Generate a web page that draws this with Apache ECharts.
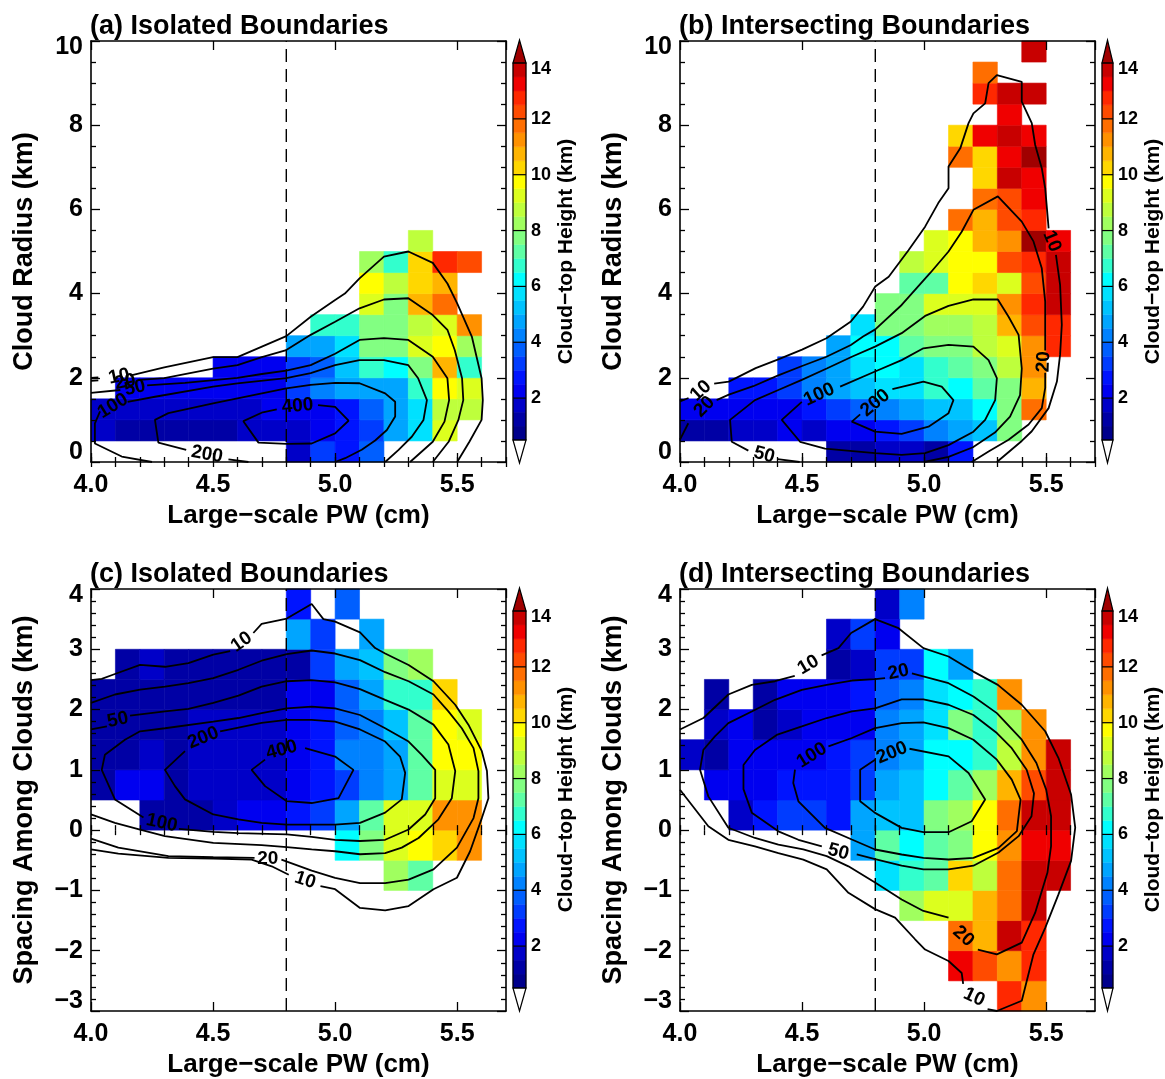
<!DOCTYPE html>
<html>
<head>
<meta charset="utf-8">
<script src="https://cdn.jsdelivr.net/npm/echarts@6/dist/echarts.min.js"></script>
<style>
  html, body { margin: 0; padding: 0; background: #fff; }
  #chart { width: 1165px; height: 1079px; }
</style>
</head>
<body>
<div id="chart"></div>
<script>
const FONT = "'Liberation Sans', Arial, Helvetica, sans-serif";
const _ = null;

// ---- bins (left / lower edges) ----
const pwBins = [4.0, 4.1, 4.2, 4.3, 4.4, 4.5, 4.6, 4.7, 4.8, 4.9, 5.0, 5.1, 5.2, 5.3, 5.4, 5.5, 5.6];
const radiusBins = [0, 0.5, 1, 1.5, 2, 2.5, 3, 3.5, 4, 4.5, 5, 5.5, 6, 6.5, 7, 7.5, 8, 8.5, 9, 9.5];
const spacingBins = [-3, -2.5, -2, -1.5, -1, -0.5, 0, 0.5, 1, 1.5, 2, 2.5, 3, 3.5];
const pwBinWidth = 0.1;
const rowBinHeight = 0.5;
const threshold = 4.8; // dashed reference PW (cm)

// ---- mean cloud-top height (km) per bin; rows follow the row bins ----
const heightA = [
  [_, _, _, _, _, _, _, _, 1.8, 3.2, 2.7, 3.7, _, _, _, _, _],
  [1.8, 1.2, 1.2, 1.2, 1.2, 1.2, 1.6, 1.8, 1.8, 2.2, 2.7, 3.2, 4.7, 5.7, 9.2, _, _],
  [1.8, 1.8, 1.8, 1.8, 1.8, 1.8, 1.8, 2.2, 2.2, 2.3, 2.7, 3.7, 4.7, 5.7, 8.7, 8.7, _],
  [_, 2.2, 2.2, 2.2, 2.2, 2.2, 2.2, 2.2, 3.2, 4.2, 4.7, 4.7, 4.7, 6.7, 9.7, 9.2, _],
  [_, _, _, _, _, 2.3, 2.3, 2.3, 3.2, 3.7, 5.2, 6.7, 6.2, 7.7, 10.7, 6.7, _],
  [_, _, _, _, _, _, _, _, 4.7, 4.7, 5.7, 7.7, 7.7, 9.2, 9.7, 8.2, _],
  [_, _, _, _, _, _, _, _, _, 6.8, 6.8, 7.7, 7.7, 8.7, 9.2, 11.2, _],
  [_, _, _, _, _, _, _, _, _, _, _, 9.2, 7.7, 10.9, 11.7, _, _],
  [_, _, _, _, _, _, _, _, _, _, _, 9.7, 8.7, 10.2, 10.7, _, _],
  [_, _, _, _, _, _, _, _, _, _, _, 8.0, 6.8, 10.2, 12.7, 12.2, _],
  [_, _, _, _, _, _, _, _, _, _, _, _, _, 8.7, _, _, _]
];
const heightB = [
  [_, _, _, _, _, _, 1.2, 1.3, 1.8, 1.9, 1.2, 2.7, _, _, _, _, _],
  [1.2, 1.2, 1.6, 1.6, 2.3, 1.8, 2.0, 2.3, 2.5, 3.2, 4.2, 4.5, 5.2, 7.7, _, _, _],
  [2.2, 2.2, 2.2, 2.2, 2.3, 2.7, 3.2, 3.5, 4.2, 4.5, 5.2, 5.2, 6.2, 7.7, 11.7, _, _],
  [_, _, 2.5, 2.7, 3.2, 4.2, 4.5, 5.2, 5.7, 5.7, 6.7, 6.2, 7.2, 7.7, 10.7, _, _],
  [_, _, _, _, 3.2, 4.2, 4.7, 5.7, 6.2, 5.7, 6.7, 7.2, 7.7, 8.7, 11.2, _, _],
  [_, _, _, _, _, _, 4.7, 6.2, 6.2, 7.2, 7.7, 7.7, 8.7, 9.2, 11.2, 12.7, _],
  [_, _, _, _, _, _, _, 5.7, 7.7, 7.7, 8.2, 8.2, 8.7, 10.7, 12.4, 12.7, _],
  [_, _, _, _, _, _, _, _, 7.7, 7.7, 9.2, 9.2, 9.2, 11.2, 12.7, 13.7, _],
  [_, _, _, _, _, _, _, _, _, 7.2, 7.2, 9.7, 10.2, 9.2, 12.2, 13.6, _],
  [_, _, _, _, _, _, _, _, _, 8.7, 9.2, 9.7, 9.7, 12.2, 12.7, 13.6, _],
  [_, _, _, _, _, _, _, _, _, _, 9.2, 9.7, 10.7, 11.2, 14.5, 13.2, _],
  [_, _, _, _, _, _, _, _, _, _, _, 11.7, 10.7, 12.2, 12.7, _, _],
  [_, _, _, _, _, _, _, _, _, _, _, _, 11.7, 12.4, 13.2, _, _],
  [_, _, _, _, _, _, _, _, _, _, _, _, 10.2, 13.6, 13.2, _, _],
  [_, _, _, _, _, _, _, _, _, _, _, 11.7, 10.2, 13.2, 14.5, _, _],
  [_, _, _, _, _, _, _, _, _, _, _, 10.2, 13.2, 13.7, 13.2, _, _],
  [_, _, _, _, _, _, _, _, _, _, _, _, _, 13.2, _, _, _],
  [_, _, _, _, _, _, _, _, _, _, _, _, 12.7, 13.7, 13.7, _, _],
  [_, _, _, _, _, _, _, _, _, _, _, _, 11.7, _, _, _, _],
  [_, _, _, _, _, _, _, _, _, _, _, _, _, _, 13.7, _, _]
];
const heightC = [
  [_, _, _, _, _, _, _, _, _, _, _, _, _, _, _, _, _],
  [_, _, _, _, _, _, _, _, _, _, _, _, _, _, _, _, _],
  [_, _, _, _, _, _, _, _, _, _, _, _, _, _, _, _, _],
  [_, _, _, _, _, _, _, _, _, _, _, _, _, _, _, _, _],
  [_, _, _, _, _, _, _, _, _, _, _, _, 8.2, 7.2, _, _, _],
  [_, _, _, _, _, _, _, _, _, _, 6.2, 7.7, 9.2, 9.7, 10.2, 11.2, _],
  [_, _, 1.4, 1.4, 1.4, 1.6, 2.2, 2.2, 2.7, 3.2, 4.7, 7.2, 9.2, 9.2, 11.2, 11.2, _],
  [1.2, 2.0, 2.0, 1.2, 1.8, 1.8, 1.8, 1.8, 2.3, 2.5, 3.4, 4.2, 4.7, 7.2, 9.2, 9.2, _],
  [1.2, 1.2, 1.8, 1.2, 1.8, 1.8, 1.8, 1.8, 2.3, 2.5, 4.2, 4.2, 4.7, 7.2, 9.7, 9.7, _],
  [1.2, 1.2, 1.2, 1.2, 1.6, 1.6, 1.6, 1.6, 2.2, 2.5, 3.7, 4.3, 5.2, 7.2, 9.7, 9.2, _],
  [1.2, 1.2, 1.2, 1.2, 1.2, 1.2, 1.2, 1.2, 2.2, 2.2, 3.7, 4.7, 6.7, 6.7, 10.2, _, _],
  [_, 1.2, 1.8, 1.2, 1.2, 1.2, 1.2, 1.2, 1.4, 3.2, 4.7, 5.2, 7.7, 8.0, _, _, _],
  [_, _, _, _, _, _, _, _, 4.5, 3.2, _, 4.7, _, _, _, _, _],
  [_, _, _, _, _, _, _, _, 2.7, _, 3.7, _, _, _, _, _, _]
];
const heightD = [
  [_, _, _, _, _, _, _, _, _, _, _, _, _, 12.7, 11.2, _, _],
  [_, _, _, _, _, _, _, _, _, _, _, 13.2, 12.2, 11.2, 12.7, _, _],
  [_, _, _, _, _, _, _, _, _, _, _, 11.7, 10.7, 13.6, 12.7, _, _],
  [_, _, _, _, _, _, _, _, _, 8.2, 9.2, 9.2, 10.7, 11.7, 13.7, _, _],
  [_, _, _, _, _, _, _, _, 5.9, 6.7, 7.2, 10.2, 8.7, 11.7, 13.6, 13.7, _],
  [_, _, _, _, _, _, _, 4.5, 7.2, 6.2, 7.2, 7.7, 9.7, 11.2, 13.2, 13.2, _],
  [_, _, 1.8, 2.7, 3.2, 3.2, 2.7, 4.7, 5.2, 5.2, 7.7, 8.2, 9.7, 11.7, 13.6, 13.7, _],
  [_, 2.3, 2.0, 2.3, 2.7, 2.7, 2.5, 3.2, 4.5, 5.2, 6.2, 7.2, 8.2, 10.7, 12.2, 13.7, _],
  [1.8, 1.2, 2.2, 2.0, 2.2, 2.2, 2.7, 3.2, 4.2, 4.7, 6.2, 6.2, 6.7, 8.7, 11.2, 13.7, _],
  [_, 1.8, 2.0, 1.4, 1.8, 2.3, 2.0, 2.3, 4.2, 4.5, 5.9, 7.5, 6.7, 8.2, 11.2, _, _],
  [_, 1.0, _, 1.2, 2.2, 2.0, 2.0, 2.7, 3.7, 4.2, 5.7, 6.2, 6.7, 11.2, _, _, _],
  [_, _, _, _, _, _, 1.0, 1.8, 3.2, 3.2, 6.2, 4.5, _, _, _, _, _],
  [_, _, _, _, _, _, 1.8, 3.2, 2.2, _, _, _, _, _, _, _, _],
  [_, _, _, _, _, _, _, _, 1.8, 4.2, _, _, _, _, _, _, _]
];

// ---- contours of cloud counts: each level is a list of polyline pieces [PW, y] ----
const a10 = [
  [[4.0, 2.0], [4.03, 2.01]],
  [[4.16, 2.05], [4.30, 2.25], [4.50, 2.49], [4.60, 2.49], [4.70, 2.74], [4.80, 2.99], [4.90, 3.45], [5.0, 3.85], [5.04, 4.0], [5.10, 4.36], [5.20, 4.88], [5.30, 5.0], [5.40, 4.73], [5.46, 4.24], [5.50, 3.77], [5.56, 2.98], [5.60, 1.99], [5.605, 1.47], [5.60, 1.0], [5.55, 0.48], [5.50, 0]]
];
const a20 = [
  [[4.0, 1.93], [4.03, 1.94]],
  [[4.20, 1.95], [4.30, 1.99], [4.50, 2.22], [4.60, 2.30], [4.70, 2.49], [4.80, 2.66], [4.90, 3.02], [5.0, 3.33], [5.10, 3.65], [5.20, 3.86], [5.30, 3.89], [5.40, 3.49], [5.46, 3.14], [5.49, 2.66], [5.52, 1.99], [5.525, 1.47], [5.505, 1.0], [5.465, 0.48], [5.40, 0]]
];
const a50 = [
  [[4.0, 1.64], [4.12, 1.71]],
  [[4.23, 1.82], [4.385, 1.88], [4.60, 2.0], [4.70, 2.09], [4.80, 2.17], [4.90, 2.30], [5.0, 2.57], [5.10, 2.90], [5.20, 2.94], [5.30, 2.90], [5.40, 2.50], [5.46, 1.99], [5.467, 1.47], [5.448, 0.96], [5.40, 0.48], [5.307, 0]]
];
const a100 = [
  [[4.25, 0], [4.126, 0.13], [4.016, 0.44], [4.016, 0.92], [4.037, 1.2]],
  [[4.15, 1.43], [4.262, 1.55], [4.50, 1.79], [4.60, 1.87], [4.80, 1.99], [4.90, 2.11], [5.0, 2.30], [5.10, 2.42], [5.20, 2.42], [5.30, 2.30], [5.34, 1.99], [5.376, 1.47], [5.362, 1.0], [5.314, 0.60], [5.26, 0.29], [5.205, 0]]
];
const a200 = [
  [[4.645, 0], [4.563, 0.06]],
  [[4.39, 0.29], [4.276, 0.46], [4.262, 1.0], [4.317, 1.16], [4.50, 1.39], [4.60, 1.51], [4.80, 1.75], [4.90, 1.83], [5.0, 1.88], [5.10, 1.87], [5.205, 1.63], [5.246, 1.43], [5.246, 1.08], [5.212, 0.76], [5.164, 0.51], [5.109, 0.29], [5.041, 0.09], [5.0, 0]]
];
const a400 = [
  [[4.93, 1.35], [5.0, 1.31], [5.055, 0.98], [5.0, 0.68], [4.904, 0.44], [4.802, 0.43], [4.686, 0.46], [4.624, 0.97], [4.699, 1.17], [4.761, 1.25]]
];
const labelsA = [[4.115, 2.03, '10', 12], [4.14, 1.9, '20', 12], [4.18, 1.76, '50', 12], [4.09, 1.33, '100', 32], [4.475, 0.18, '200', -10], [4.846, 1.33, '400', 5]];

const b10 = [
  [[4.0, 1.44], [4.035, 1.52]],
  [[4.14, 1.86], [4.20, 1.91], [4.31, 2.23], [4.40, 2.43], [4.50, 2.67], [4.60, 2.94], [4.70, 3.34], [4.75, 3.69], [4.80, 4.17], [4.855, 4.4], [4.936, 5.03], [5.004, 5.59], [5.058, 6.15], [5.10, 6.5], [5.10, 7.02], [5.148, 7.45], [5.182, 8.05], [5.202, 8.28], [5.25, 8.52], [5.264, 9.0], [5.298, 9.19], [5.40, 9.03], [5.40, 8.56], [5.441, 8.05], [5.455, 7.53], [5.482, 6.98], [5.496, 6.5], [5.503, 6.03], [5.51, 5.55]],
  [[5.54, 4.92], [5.557, 4.21], [5.564, 3.26], [5.557, 2.55], [5.544, 1.91], [5.51, 1.28], [5.441, 0.73], [5.40, 0.5], [5.298, 0]]
];
const b20 = [
  [[4.0, 0.53], [4.034, 0.92]],
  [[4.15, 1.47], [4.20, 1.6], [4.30, 1.8], [4.40, 2.05], [4.50, 2.28], [4.60, 2.5], [4.70, 2.78], [4.75, 2.98], [4.80, 3.15], [4.908, 3.73], [5.025, 4.49], [5.10, 5.0], [5.154, 5.47], [5.202, 5.99], [5.302, 6.31], [5.40, 5.71], [5.448, 5.24], [5.482, 4.6], [5.496, 3.81], [5.496, 2.65]],
  [[5.496, 2.12], [5.496, 1.76], [5.482, 1.28], [5.428, 0.89], [5.346, 0.53], [5.264, 0.25], [5.195, 0]]
];
const b50 = [
  [[4.49, 0], [4.40, 0.07]],
  [[4.28, 0.27], [4.212, 0.48], [4.205, 1.0], [4.307, 1.47], [4.403, 1.71], [4.499, 1.95], [4.601, 2.22], [4.704, 2.50], [4.799, 2.74], [4.908, 3.06], [5.004, 3.47], [5.10, 3.71], [5.202, 3.86], [5.302, 3.86], [5.346, 3.45], [5.387, 3.02], [5.40, 2.22], [5.393, 1.59], [5.352, 1.08], [5.29, 0.7], [5.20, 0.35], [5.10, 0.12], [5.0, 0]]
];
const b100 = [
  [[4.656, 1.79], [4.799, 2.15], [4.908, 2.42], [4.997, 2.70], [5.10, 2.78], [5.202, 2.74], [5.264, 2.42], [5.298, 1.99], [5.291, 1.47], [5.25, 1.0], [5.202, 0.72], [5.10, 0.40], [5.004, 0.21], [4.908, 0.17], [4.799, 0.21], [4.594, 0.32], [4.492, 0.48], [4.417, 1.0], [4.499, 1.43]]
];
const b200 = [
  [[4.87, 1.73], [4.997, 1.91], [5.072, 1.79], [5.12, 1.47], [5.10, 1.16], [5.018, 0.84], [4.908, 0.67], [4.799, 0.72], [4.704, 0.96], [4.738, 1.13]]
];
const labelsB = [[4.085, 1.69, '10', 42], [4.10, 1.31, '20', 45], [4.57, 1.6, '100', 25], [4.80, 1.40, '200', 40], [4.345, 0.17, '50', -15], [5.523, 5.24, '10', -68], [5.49, 2.38, '20', 88]];

const c10 = [
  [[4.0, 2.49], [4.044, 2.51], [4.098, 2.59], [4.201, 2.74], [4.303, 2.71], [4.399, 2.77], [4.501, 2.91], [4.57, 2.97]],
  [[4.665, 3.27], [4.699, 3.42], [4.802, 3.51], [4.904, 3.75], [4.952, 3.50], [5.0, 3.46], [5.102, 3.28], [5.164, 3.02], [5.205, 2.93], [5.301, 2.74], [5.403, 2.47], [5.492, 2.08], [5.546, 1.75], [5.601, 1.31], [5.622, 0.98], [5.628, 0.53], [5.601, 0.20], [5.553, -0.35], [5.499, -0.79], [5.403, -0.98], [5.301, -1.26], [5.205, -1.33], [5.102, -1.29], [5.0, -0.98], [4.94, -0.93]],
  [[4.81, -0.74], [4.74, -0.60], [4.658, -0.49], [4.501, -0.47], [4.317, -0.46], [4.112, -0.39], [4.0, -0.32]]
];
const c20 = [
  [[4.0, 2.11], [4.098, 2.25], [4.201, 2.33], [4.303, 2.38], [4.399, 2.44], [4.501, 2.52], [4.604, 2.66], [4.699, 2.81], [4.802, 2.92], [4.904, 2.98], [5.0, 2.93], [5.102, 2.82], [5.205, 2.62], [5.301, 2.47], [5.403, 2.25], [5.464, 1.97], [5.519, 1.69], [5.567, 1.36], [5.587, 0.98], [5.587, 0.53], [5.567, 0.20], [5.499, -0.29], [5.403, -0.65], [5.301, -0.82], [5.205, -0.88], [5.102, -0.88], [5.0, -0.79], [4.904, -0.67], [4.78, -0.49]],
  [[4.67, -0.46], [4.501, -0.45], [4.317, -0.43], [4.112, -0.29], [4.0, -0.14]]
];
const c50 = [
  [[4.0, 1.67], [4.065, 1.72]],
  [[4.16, 1.90], [4.303, 1.97], [4.399, 2.01], [4.501, 2.11], [4.604, 2.23], [4.699, 2.38], [4.802, 2.47], [4.904, 2.49], [5.0, 2.45], [5.102, 2.34], [5.205, 2.16], [5.301, 2.0], [5.403, 1.75], [5.464, 1.42], [5.492, 0.98], [5.478, 0.53], [5.423, 0.18], [5.342, -0.13], [5.273, -0.29], [5.205, -0.38], [5.102, -0.40], [5.0, -0.35], [4.904, -0.32], [4.802, -0.28], [4.699, -0.25], [4.501, -0.21], [4.303, -0.10], [4.201, 0.01], [4.098, 0.12], [4.0, 0.26]]
];
const c100 = [
  [[4.36, 0.02], [4.501, -0.03], [4.604, -0.05], [4.802, -0.07], [4.904, -0.11], [5.0, -0.16], [5.102, -0.18], [5.205, -0.16], [5.301, 0.01], [5.369, 0.26], [5.41, 0.53], [5.41, 1.0], [5.355, 1.25], [5.301, 1.47], [5.205, 1.69], [5.102, 1.91], [5.0, 2.02], [4.904, 2.05], [4.802, 2.02], [4.699, 1.94], [4.604, 1.86], [4.501, 1.80], [4.303, 1.69], [4.201, 1.64], [4.139, 1.50], [4.057, 1.25], [4.044, 1.0], [4.098, 0.51], [4.215, 0.21]]
];
const c200 = [
  [[4.529, 1.64], [4.699, 1.78], [4.802, 1.83], [4.904, 1.83], [5.0, 1.80], [5.102, 1.67], [5.205, 1.47], [5.266, 1.22], [5.287, 0.95], [5.273, 0.51], [5.205, 0.29], [5.102, 0.12], [5.0, 0.09], [4.904, 0.09], [4.802, 0.09], [4.699, 0.12], [4.604, 0.18], [4.501, 0.26], [4.385, 0.51], [4.344, 0.73], [4.303, 1.0], [4.385, 1.31]]
];
const c400 = [
  [[4.877, 1.36], [5.0, 1.22], [5.075, 1.0], [5.014, 0.53], [4.904, 0.45], [4.802, 0.48], [4.713, 0.73], [4.658, 1.0], [4.713, 1.17]]
];
const labelsC = [[4.617, 3.12, '10', 35], [4.11, 1.83, '50', 12], [4.46, 1.53, '200', 22], [4.781, 1.33, '400', 15], [4.29, 0.12, '100', -12], [4.724, -0.47, '20', 0], [4.877, -0.83, '10', -18]];

const d10 = [
  [[4.0, 1.67], [4.096, 1.86], [4.198, 2.25], [4.294, 2.41], [4.389, 2.47], [4.47, 2.56]],
  [[4.58, 2.9], [4.649, 3.02], [4.701, 3.27], [4.799, 3.50], [4.895, 3.35], [4.997, 3.02], [5.1, 2.88], [5.202, 2.63], [5.302, 2.41], [5.4, 2.08], [5.496, 1.64], [5.55, 1.20], [5.602, 0.59], [5.619, 0.04], [5.602, -0.51], [5.55, -1.07], [5.496, -1.62], [5.448, -2.06], [5.4, -2.83], [5.298, -3.0], [5.26, -2.97]],
  [[5.16, -2.55], [5.154, -2.37], [5.1, -2.17], [5.004, -1.98], [4.963, -1.81], [4.881, -1.45], [4.799, -1.31], [4.69, -1.04], [4.601, -0.65], [4.505, -0.49], [4.403, -0.38], [4.307, -0.27], [4.198, -0.16], [4.116, 0.065], [4.0, 0.67]]
];
const d20 = [
  [[4.95, 2.6], [5.1, 2.437], [5.202, 2.217], [5.298, 1.941], [5.4, 1.5], [5.46, 1.114], [5.5, 0.673], [5.52, 0.231], [5.52, -0.266], [5.505, -0.708], [5.455, -1.37], [5.4, -1.866], [5.298, -2.06], [5.22, -1.98]],
  [[5.1, -1.45], [4.997, -1.34], [4.908, -1.15], [4.799, -0.87], [4.69, -0.60], [4.601, -0.43], [4.505, -0.32], [4.403, -0.24], [4.307, -0.13], [4.198, 0.04], [4.116, 0.56], [4.082, 1.003], [4.096, 1.334], [4.143, 1.555], [4.198, 1.776], [4.294, 1.969], [4.389, 2.162], [4.499, 2.328], [4.601, 2.41], [4.704, 2.482], [4.799, 2.504], [4.84, 2.52]]
];
const d50 = [
  [[4.724, -0.40], [4.799, -0.48], [4.908, -0.59], [4.997, -0.65], [5.1, -0.65], [5.202, -0.59], [5.305, -0.37], [5.387, -0.10], [5.44, 0.23], [5.45, 0.61], [5.42, 1.0], [5.359, 1.36], [5.298, 1.61], [5.202, 1.91], [5.1, 2.08], [4.997, 2.17], [4.908, 2.17], [4.799, 2.02], [4.704, 1.97], [4.601, 1.86], [4.499, 1.72], [4.396, 1.58], [4.307, 1.33], [4.26, 1.08], [4.26, 0.68], [4.294, 0.29], [4.403, -0.02], [4.485, -0.16], [4.581, -0.27]]
];
const d100 = [
  [[4.608, 1.389], [4.704, 1.528], [4.799, 1.693], [4.908, 1.776], [4.997, 1.787], [5.1, 1.693], [5.202, 1.5], [5.298, 1.169], [5.359, 0.838], [5.395, 0.507], [5.38, -0.017], [5.305, -0.294], [5.202, -0.459], [5.1, -0.487], [4.997, -0.459], [4.908, -0.404], [4.799, -0.321], [4.704, -0.156], [4.594, 0.038], [4.485, 0.479], [4.464, 0.783], [4.471, 1.003]]
];
const d200 = [
  [[4.94, 1.35], [5.1, 1.224], [5.182, 0.948], [5.25, 0.507], [5.195, 0.148], [5.1, -0.034], [4.997, -0.034], [4.908, 0.038], [4.799, 0.286], [4.738, 0.479], [4.738, 1.003], [4.799, 1.169]]
];
const labelsD = [[4.526, 2.74, '10', 30], [4.895, 2.62, '20', 12], [4.54, 1.24, '100', 32], [4.868, 1.28, '200', 22], [4.649, -0.36, '50', -15], [5.161, -1.76, '20', -42], [5.205, -2.77, '10', -25]];

// ---- discrete colour table: 27 steps of 0.5 km from 0.5 to 14 km ----
const paletteColors = ['#00008c', '#0000a5', '#0000c8', '#0000f0', '#0014ff', '#003cff', '#005fff', '#0082ff', '#00a5ff',
  '#00c3ff', '#00e1ff', '#00ffff', '#32ffcd', '#5fffa5', '#82ff82', '#a0ff5f', '#beff3c', '#dcff1e', '#ffff00',
  '#ffd700', '#ffb400', '#ff9100', '#ff6e00', '#ff4b00', '#ff2800', '#f00000', '#c80000'];
const overColor = '#a00000';
const scaleMin = 0.5, scaleMax = 14, scaleStep = 0.5;

function heightColor(h) {
  if (h < scaleMin) return '#ffffff';
  if (h >= scaleMax) return overColor;
  return paletteColors[Math.floor((h - scaleMin) / scaleStep)];
}

const boldText = (size) => ({ fontFamily: FONT, fontWeight: 'bold', fontSize: size, color: '#000' });
const minus = (v) => String(v).replace('-', '\u2212');

const panels = [
  { title: '(a) Isolated Boundaries', plot: { left: 91, top: 41, width: 415, height: 421 }, bar: { left: 513, top: 63, width: 13, height: 377 }, titleTop: 13,
    yMin: 0, yMax: 10, yStep: 2, yMinor: 4, yName: 'Cloud Radius (km)', rows: radiusBins, heights: heightA,
    contours: [a10, a20, a50, a100, a200, a400], labels: labelsA },
  { title: '(b) Intersecting Boundaries', plot: { left: 680, top: 41, width: 415, height: 421 }, bar: { left: 1102, top: 63, width: 13, height: 377 }, titleTop: 13,
    yMin: 0, yMax: 10, yStep: 2, yMinor: 4, yName: 'Cloud Radius (km)', rows: radiusBins, heights: heightB,
    contours: [b10, b20, b50, b100, b200], labels: labelsB },
  { title: '(c) Isolated Boundaries', plot: { left: 91, top: 589, width: 415, height: 423 }, bar: { left: 513, top: 611, width: 13, height: 377 }, titleTop: 561,
    yMin: -3, yMax: 4, yStep: 1, yMinor: 5, yName: 'Spacing Among Clouds (km)', rows: spacingBins, heights: heightC,
    contours: [c10, c20, c50, c100, c200, c400], labels: labelsC },
  { title: '(d) Intersecting Boundaries', plot: { left: 680, top: 589, width: 415, height: 423 }, bar: { left: 1102, top: 611, width: 13, height: 377 }, titleTop: 561,
    yMin: -3, yMax: 4, yStep: 1, yMinor: 5, yName: 'Spacing Among Clouds (km)', rows: spacingBins, heights: heightD,
    contours: [d10, d20, d50, d100, d200], labels: labelsD }
];

function cellData(rowBins, heights) {
  const out = [];
  heights.forEach((row, r) => row.forEach((h, c) => {
    if (h !== null) out.push([pwBins[c], rowBins[r], h]);
  }));
  return out;
}

function renderCell(params, api) {
  const x0 = api.value(0), y0 = api.value(1), h = api.value(2);
  const a = api.coord([x0, y0 + rowBinHeight]);
  const b = api.coord([x0 + pwBinWidth, y0]);
  const col = heightColor(h);
  return { type: 'rect', shape: { x: a[0], y: a[1], width: b[0] - a[0], height: b[1] - a[1] },
    style: { fill: col, stroke: col, lineWidth: 0.6 } };
}

function renderBarBlock(params, api) {
  const lo = api.value(0), hi = api.value(1);
  const a = api.coord([0, hi]);
  const b = api.coord([1, lo]);
  const col = heightColor((lo + hi) / 2);
  return { type: 'rect', shape: { x: a[0], y: a[1], width: b[0] - a[0], height: b[1] - a[1] },
    style: { fill: col, stroke: col, lineWidth: 0.4 } };
}

function renderBarFrame(params, api) {
  const tl = api.coord([0, scaleMax]);
  const br = api.coord([1, scaleMin]);
  const midX = (tl[0] + br[0]) / 2;
  const tip = 23;
  const children = [
    { type: 'polygon', shape: { points: [[tl[0], tl[1]], [br[0], tl[1]], [midX, tl[1] - tip]] },
      style: { fill: overColor, stroke: '#000', lineWidth: 1.2 } },
    { type: 'polygon', shape: { points: [[tl[0], br[1]], [br[0], br[1]], [midX, br[1] + tip]] },
      style: { fill: '#fff', stroke: '#000', lineWidth: 1.2 } },
    { type: 'rect', shape: { x: tl[0], y: tl[1], width: br[0] - tl[0], height: br[1] - tl[1] },
      style: { fill: 'none', stroke: '#000', lineWidth: 1.2 } }
  ];
  for (let v = 2; v < scaleMax; v += 2) {
    const p = api.coord([0, v]);
    children.push({ type: 'line', shape: { x1: tl[0], y1: p[1], x2: br[0], y2: p[1] },
      style: { stroke: '#000', lineWidth: 1.2 } });
  }
  return { type: 'group', children };
}

const barLevels = paletteColors.map((c, i) => [scaleMin + i * scaleStep, scaleMin + (i + 1) * scaleStep]);

const grid = [], xAxis = [], yAxis = [], series = [], title = [];
const axisLine = { show: true, onZero: false, lineStyle: { color: '#000', width: 1.6 } };
const tickStyle = { color: '#000', width: 1.3 };

panels.forEach((p) => {
  const gP = grid.push(p.plot) - 1;
  const gB = grid.push(p.bar) - 1;

  title.push({ text: p.title, left: p.plot.left - 1, top: p.titleTop, padding: 0, textStyle: boldText(27) });

  // frame axes: major + minor ticks on all four sides
  const xMain = xAxis.push({
    gridIndex: gP, type: 'value', position: 'bottom', min: 4.0, max: 5.7, interval: 0.5,
    axisLine, splitLine: { show: false },
    axisTick: { show: true, inside: true, length: 9, lineStyle: tickStyle },
    axisLabel: Object.assign({ show: true, margin: 11, showMaxLabel: false, formatter: (v) => v.toFixed(1) }, boldText(25)),
    name: 'Large\u2212scale PW (cm)', nameLocation: 'middle', nameGap: 41, nameTextStyle: boldText(26), z: 10
  }) - 1;
  xAxis.push({ gridIndex: gP, type: 'value', position: 'bottom', min: 4.0, max: 5.7, interval: 0.1,
    axisLine: { show: false }, splitLine: { show: false }, axisLabel: { show: false },
    axisTick: { show: true, inside: true, length: 5, lineStyle: tickStyle }, z: 10 });
  xAxis.push({ gridIndex: gP, type: 'value', position: 'top', min: 4.0, max: 5.7, interval: 0.5,
    axisLine, splitLine: { show: false }, axisLabel: { show: false },
    axisTick: { show: true, inside: true, length: 9, lineStyle: tickStyle }, z: 10 });
  xAxis.push({ gridIndex: gP, type: 'value', position: 'top', min: 4.0, max: 5.7, interval: 0.1,
    axisLine: { show: false }, splitLine: { show: false }, axisLabel: { show: false },
    axisTick: { show: true, inside: true, length: 5, lineStyle: tickStyle }, z: 10 });

  const yLabelRich = { lo: Object.assign({ padding: [0, 0, 20, 0] }, boldText(25)), hi: Object.assign({ padding: [12, 0, 0, 0] }, boldText(25)) };
  const yMain = yAxis.push({
    gridIndex: gP, type: 'value', position: 'left', min: p.yMin, max: p.yMax, interval: p.yStep,
    axisLine, splitLine: { show: false },
    axisTick: { show: true, inside: true, length: 9, lineStyle: tickStyle },
    minorTick: { show: true, splitNumber: p.yMinor, length: 5, lineStyle: tickStyle },
    axisLabel: Object.assign({ margin: 8, rich: yLabelRich,
      formatter: (v) => v === p.yMin ? '{lo|' + minus(v) + '}' : (v === p.yMax ? '{hi|' + minus(v) + '}' : minus(v)) }, boldText(25)),
    name: p.yName, nameLocation: 'middle', nameGap: 53, nameRotate: 90, nameTextStyle: boldText(27), z: 10
  }) - 1;
  yAxis.push({ gridIndex: gP, type: 'value', position: 'right', min: p.yMin, max: p.yMax, interval: p.yStep,
    axisLine, splitLine: { show: false }, axisLabel: { show: false },
    axisTick: { show: true, inside: true, length: 9, lineStyle: tickStyle },
    minorTick: { show: true, splitNumber: p.yMinor, length: 5, lineStyle: tickStyle }, z: 10 });

  // colour bar axes
  const xBar = xAxis.push({ gridIndex: gB, type: 'value', min: 0, max: 1, show: false }) - 1;
  const yBar = yAxis.push({
    gridIndex: gB, type: 'value', position: 'right', min: scaleMin, max: scaleMax, interval: scaleStep,
    axisLine: { show: false }, axisTick: { show: false }, splitLine: { show: false },
    axisLabel: Object.assign({ margin: 5, showMinLabel: true, showMaxLabel: true,
      rich: { hi: Object.assign({ padding: [12, 0, 0, 0] }, boldText(18)) },
      formatter: (v) => (Math.abs(v % 2) < 1e-9 ? (v === scaleMax ? '{hi|' + v + '}' : String(v)) : '') }, boldText(18)),
    name: 'Cloud\u2212top Height (km)', nameLocation: 'middle', nameRotate: 90, nameGap: 30, nameTextStyle: boldText(21)
  }) - 1;

  // binned cloud-top heights
  series.push({ type: 'custom', xAxisIndex: xMain, yAxisIndex: yMain, data: cellData(p.rows, p.heights),
    renderItem: renderCell, silent: true, z: 1 });

  // reference PW
  series.push({ type: 'line', xAxisIndex: xMain, yAxisIndex: yMain, data: [[threshold, p.yMin], [threshold, p.yMax]],
    symbol: 'none', silent: true, z: 3, lineStyle: { color: '#000', width: 1.4, type: [13, 7] } });

  // count contours
  p.contours.forEach((level) => level.forEach((piece) => {
    series.push({ type: 'line', xAxisIndex: xMain, yAxisIndex: yMain, data: piece, symbol: 'none', silent: true, z: 4,
      lineStyle: { color: '#000', width: 1.8 } });
  }));

  // contour level labels
  series.push({ type: 'scatter', xAxisIndex: xMain, yAxisIndex: yMain, symbol: 'circle', symbolSize: 0, silent: true, z: 5,
    itemStyle: { color: '#000', opacity: 1 },
    label: Object.assign({ show: true, position: 'inside', formatter: '{b}', textBorderWidth: 0, opacity: 1 }, boldText(19)),
    data: p.labels.map((l) => ({ value: [l[0], l[1]], name: l[2], label: { rotate: l[3] } })) });

  // colour bar
  series.push({ type: 'custom', xAxisIndex: xBar, yAxisIndex: yBar, data: barLevels, renderItem: renderBarBlock, silent: true, z: 1 });
  series.push({ type: 'custom', xAxisIndex: xBar, yAxisIndex: yBar, data: [[0, 0]], renderItem: renderBarFrame, silent: true, z: 2 });
});

const chart = echarts.init(document.getElementById('chart'), null, { renderer: 'canvas' });
chart.setOption({ backgroundColor: '#fff', animation: false, title, grid, xAxis, yAxis, series });
</script>
</body>
</html>
